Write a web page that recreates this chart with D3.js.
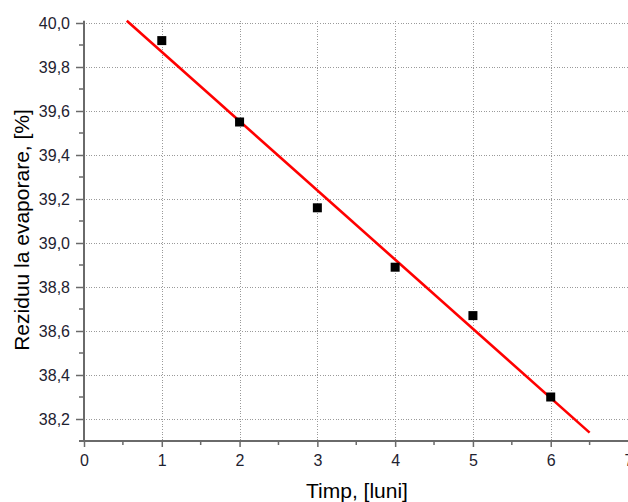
<!DOCTYPE html>
<html>
<head>
<meta charset="utf-8">
<script src="https://cdn.jsdelivr.net/npm/d3@7"></script>
<style>
  html, body { margin: 0; padding: 0; background: #fff; }
  svg { display: block; }
  text { font-family: Arial, "Liberation Sans", sans-serif; }
</style>
</head>
<body>
<script>
// Measured residue on evaporation over storage time
const months = [1, 2, 3, 4, 5, 6];
const residue = [39.92, 39.55, 39.16, 38.89, 38.67, 38.30];

// Linear fit drawn as a segment between its two end points
const fitMonths = [0.55, 6.5];
const fitResidue = [40.01, 38.138];

// Tick values and their labels (comma as decimal separator)
const xTicks = [0, 1, 2, 3, 4, 5, 6, 7];
const xMinorTicks = [0.5, 1.5, 2.5, 3.5, 4.5, 5.5, 6.5];
const yTicks = [38.2, 38.4, 38.6, 38.8, 39.0, 39.2, 39.4, 39.6, 39.8, 40.0];
const yMinorTicks = [38.3, 38.5, 38.7, 38.9, 39.1, 39.3, 39.5, 39.7, 39.9];
const yTickLabels = ["38,2", "38,4", "38,6", "38,8", "39,0", "39,2", "39,4", "39,6", "39,8", "40,0"];

const xTitle = "Timp, [luni]";
const yTitle = "Reziduu la evaporare, [%]";

const W = 628, H = 502;
const plotLeft = 84, plotRight = 628.5, plotTop = 20.8, plotBottom = 441;

const svg = d3.select("body").append("svg")
  .attr("width", W).attr("height", H);

const x = d3.scaleLinear().domain([0, 7]).range([plotLeft, plotRight]);
const y = d3.scaleLinear().domain([38.1, 40.01]).range([plotBottom, plotTop]);

// Dotted grid at major ticks
const grid = svg.append("g")
  .attr("stroke", "#9a9a9a").attr("stroke-width", 1)
  .attr("stroke-dasharray", "1,1.6").attr("shape-rendering", "crispEdges");
grid.selectAll("line.h").data(yTicks).join("line").attr("class", "h")
  .attr("x1", plotLeft + 2).attr("x2", W)
  .attr("y1", d => Math.round(y(d)) + 0.5).attr("y2", d => Math.round(y(d)) + 0.5);
grid.selectAll("line.v").data(xTicks.filter(d => d > 0 && d < 7)).join("line").attr("class", "v")
  .attr("y1", plotTop).attr("y2", plotBottom - 1)
  .attr("x1", d => Math.round(x(d)) + 0.5).attr("x2", d => Math.round(x(d)) + 0.5);

// Axes
const axisColor = "#6a6a6a";
const xAxis = svg.append("g").attr("transform", `translate(0,${plotBottom})`)
  .call(d3.axisBottom(x).tickValues(xTicks).tickFormat(d3.format("d"))
    .tickSizeInner(6).tickSizeOuter(0).tickPadding(8));
const yAxis = svg.append("g").attr("transform", `translate(${plotLeft},0)`)
  .call(d3.axisLeft(y).tickValues(yTicks).tickFormat((d, i) => yTickLabels[i])
    .tickSizeInner(8).tickSizeOuter(0).tickPadding(6));

[xAxis, yAxis].forEach(g => {
  g.select(".domain").attr("stroke", axisColor).attr("stroke-width", 2);
  g.selectAll(".tick line").attr("stroke", axisColor).attr("stroke-width", 1.5);
  g.selectAll(".tick text").attr("fill", "#1e2230").attr("font-size", 16)
    .attr("font-family", "Arial, 'Liberation Sans', sans-serif");
});
// Extend axis lines slightly past the corner
xAxis.select(".domain").attr("d", `M${plotLeft - 5},0H${W}`);
yAxis.select(".domain").attr("d", `M0,${plotTop}V${plotBottom + 1}`);

// Minor ticks
xAxis.selectAll("line.minor").data(xMinorTicks).join("line").attr("class", "minor")
  .attr("x1", d => x(d)).attr("x2", d => x(d)).attr("y1", 0).attr("y2", 4)
  .attr("stroke", axisColor).attr("stroke-width", 1.5);
yAxis.selectAll("line.minor").data(yMinorTicks).join("line").attr("class", "minor")
  .attr("y1", d => y(d)).attr("y2", d => y(d)).attr("x1", 0).attr("x2", -5)
  .attr("stroke", axisColor).attr("stroke-width", 1.5);

// Fit line
svg.append("path")
  .datum(fitMonths.map((m, i) => [m, fitResidue[i]]))
  .attr("fill", "none").attr("stroke", "#ff0000").attr("stroke-width", 2.6)
  .attr("d", d3.line().x(d => x(d[0])).y(d => y(d[1])));

// Data points as black squares
const s = 9;
svg.selectAll("rect.pt").data(months.map((m, i) => [m, residue[i]])).join("rect")
  .attr("class", "pt")
  .attr("x", d => x(d[0]) - s / 2).attr("y", d => y(d[1]) - s / 2)
  .attr("width", s).attr("height", s).attr("fill", "#000");

// Axis titles
svg.append("text").attr("x", 357).attr("y", 498).attr("text-anchor", "middle")
  .attr("font-size", 21).attr("fill", "#000").text(xTitle);
svg.append("text").attr("transform", "translate(29,230) rotate(-90)")
  .attr("text-anchor", "middle").attr("font-size", 21).attr("fill", "#000").text(yTitle);
</script>
</body>
</html>
